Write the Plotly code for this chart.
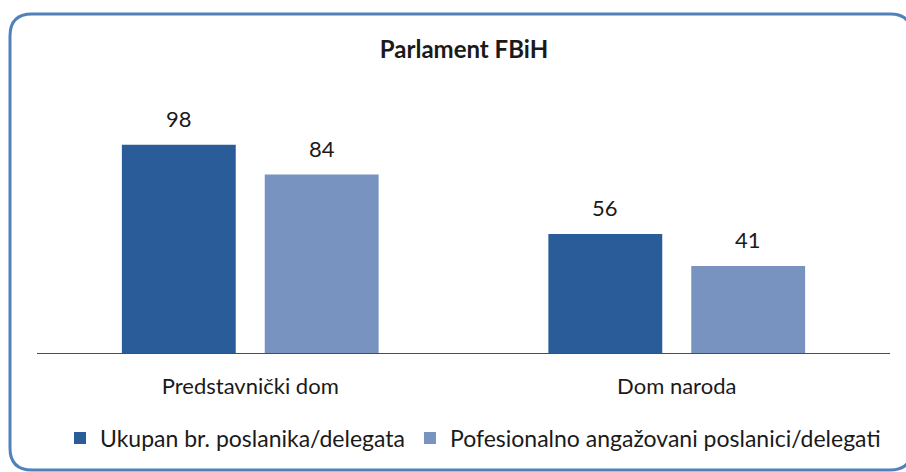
import plotly.graph_objects as go

categories = ["Predstavnički dom", "Dom naroda"]
series_names = ["Ukupan br. poslanika/delegata", "Pofesionalno angažovani poslanici/delegati"]
ukupan = [98, 56]
profesionalno = [84, 41]
title_text = "Parlament FBiH"

W, H = 906, 472
ML, MR, MT, MB = 37, 16, 98, 119
PW, PH = W - ML - MR, H - MT - MB

def px(x):
    return (x - ML) / PW

def py(y):
    return (H - MB - y) / PH

FONT = "Lato, Carlito, Calibri, sans-serif"
colors = ["#2b5c9a", "#7893bf"]
width = 0.267
offsets = [-0.301, 0.034]

fig = go.Figure()
for name, vals, col, off in zip(series_names, [ukupan, profesionalno], colors, offsets):
    fig.add_trace(go.Bar(
        x=categories, y=vals, name=name, width=width, offset=off,
        marker=dict(color=col, line=dict(width=0)),
        hoverinfo="skip",
    ))

annotations = []
for vals, off in zip([ukupan, profesionalno], offsets):
    for cat, v in zip(categories, vals):
        annotations.append(dict(
            x=cat, y=v, xref="x", yref="y", text=str(v), showarrow=False,
            xshift=(off + width / 2) * (PW / 2), yanchor="bottom", yshift=11,
            font=dict(family=FONT, size=22, color="#1a1a1a"),
        ))

# rounded border
x0, x1, y0, y1, r = 10, 912, 14, 470, 22
path = (f"M {px(x0 + r)} {py(y0)} L {px(x1 - r)} {py(y0)} "
        f"Q {px(x1)} {py(y0)} {px(x1)} {py(y0 + r)} L {px(x1)} {py(y1 - r)} "
        f"Q {px(x1)} {py(y1)} {px(x1 - r)} {py(y1)} L {px(x0 + r)} {py(y1)} "
        f"Q {px(x0)} {py(y1)} {px(x0)} {py(y1 - r)} L {px(x0)} {py(y0 + r)} "
        f"Q {px(x0)} {py(y0)} {px(x0 + r)} {py(y0)} Z")

fig.update_layout(
    width=W, height=H,
    margin=dict(l=ML, r=MR, t=MT, b=MB),
    paper_bgcolor="white", plot_bgcolor="white",
    barmode="overlay",
    title=dict(text=f"<b>{title_text}</b>", x=464 / W, xanchor="center",
               y=1 - 50 / H, yanchor="middle",
               font=dict(family=FONT, size=24, color="#1a1a1a")),
    xaxis=dict(showline=True, linecolor="#4d4d4d", linewidth=1, ticks="",
               showgrid=False, range=[-0.5, 1.5],
               tickfont=dict(family=FONT, size=22, color="#1a1a1a"),
               ticklabelstandoff=14),
    yaxis=dict(visible=False, range=[0, 120], showgrid=False, zeroline=False),
    legend=dict(orientation="h", x=px(473), xanchor="center", y=py(438), yanchor="middle",
                font=dict(family=FONT, size=23, color="#1a1a1a"),
                itemwidth=30, traceorder="normal", bgcolor="rgba(0,0,0,0)"),
    annotations=annotations,
    shapes=[dict(type="path", path=path, xref="paper", yref="paper",
                 line=dict(color="#4f81bd", width=3), fillcolor="rgba(0,0,0,0)", layer="below")],
    showlegend=True,
)

fig.write_html("out.html", config={"displayModeBar": False},
               post_script="document.body.style.margin='0';")
